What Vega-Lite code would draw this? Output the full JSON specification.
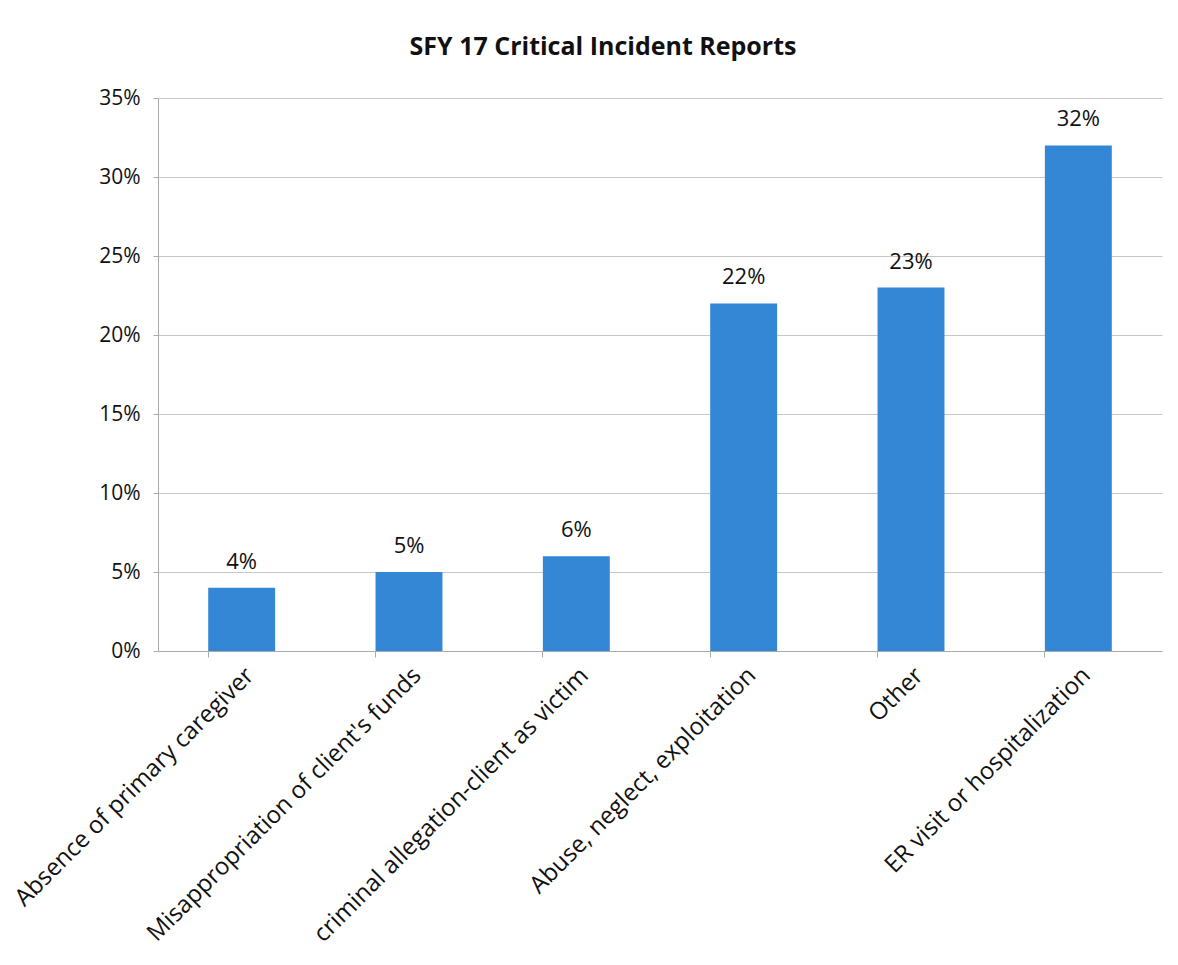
{
  "$schema": "https://vega.github.io/schema/vega-lite/v6.json",
  "autosize": {"type": "none"},
  "width": 1004,
  "height": 553,
  "padding": {"left": 158, "top": 98, "right": 16, "bottom": 314},
  "background": "white",
  "title": {
    "text": "SFY 17 Critical Incident Reports",
    "font": "Open Sans",
    "fontSize": 25,
    "fontWeight": "bold",
    "color": "#111111",
    "anchor": "middle",
    "dx": -57,
    "offset": 27
  },
  "data": {
    "values": [
      {"category": "Absence of primary caregiver", "value": 0.04},
      {"category": "Misappropriation of client's funds", "value": 0.05},
      {"category": "criminal allegation-client as victim", "value": 0.06},
      {"category": "Abuse, neglect, exploitation", "value": 0.22},
      {"category": "Other", "value": 0.23},
      {"category": "ER visit or hospitalization", "value": 0.32}
    ]
  },
  "config": {
    "view": {"stroke": null},
    "axis": {"labelFont": "Open Sans", "labelColor": "#111111", "titleFont": "Open Sans"}
  },
  "encoding": {
    "x": {
      "field": "category",
      "type": "nominal",
      "sort": null,
      "scale": {"paddingInner": 0.6, "paddingOuter": 0.3},
      "axis": {
        "title": null,
        "labelAngle": -45,
        "labelAlign": "right",
        "labelBaseline": "top",
        "labelFontSize": 24,
        "labelPadding": 6,
        "labelLimit": 0,
        "bandPosition": 0,
        "tickColor": "#aaaaaa",
        "tickSize": 6,
        "domainColor": "#aaaaaa",
        "grid": false
      }
    },
    "y": {
      "field": "value",
      "type": "quantitative",
      "scale": {"domain": [0, 0.35], "nice": false},
      "axis": {
        "title": null,
        "format": ".0%",
        "values": [0, 0.05, 0.1, 0.15, 0.2, 0.25, 0.3, 0.35],
        "labelFontSize": 21,
        "labelPadding": 13,
        "tickColor": "#aaaaaa",
        "tickSize": 5,
        "domainColor": "#aaaaaa",
        "gridColor": "#c6c6c6",
        "gridWidth": 1
      }
    }
  },
  "layer": [
    {"mark": {"type": "bar", "color": "#3387d4"}},
    {
      "mark": {"type": "text", "baseline": "bottom", "dy": -14, "font": "Open Sans", "fontSize": 22, "color": "#111111"},
      "encoding": {"text": {"field": "value", "type": "quantitative", "format": ".0%"}}
    }
  ]
}
